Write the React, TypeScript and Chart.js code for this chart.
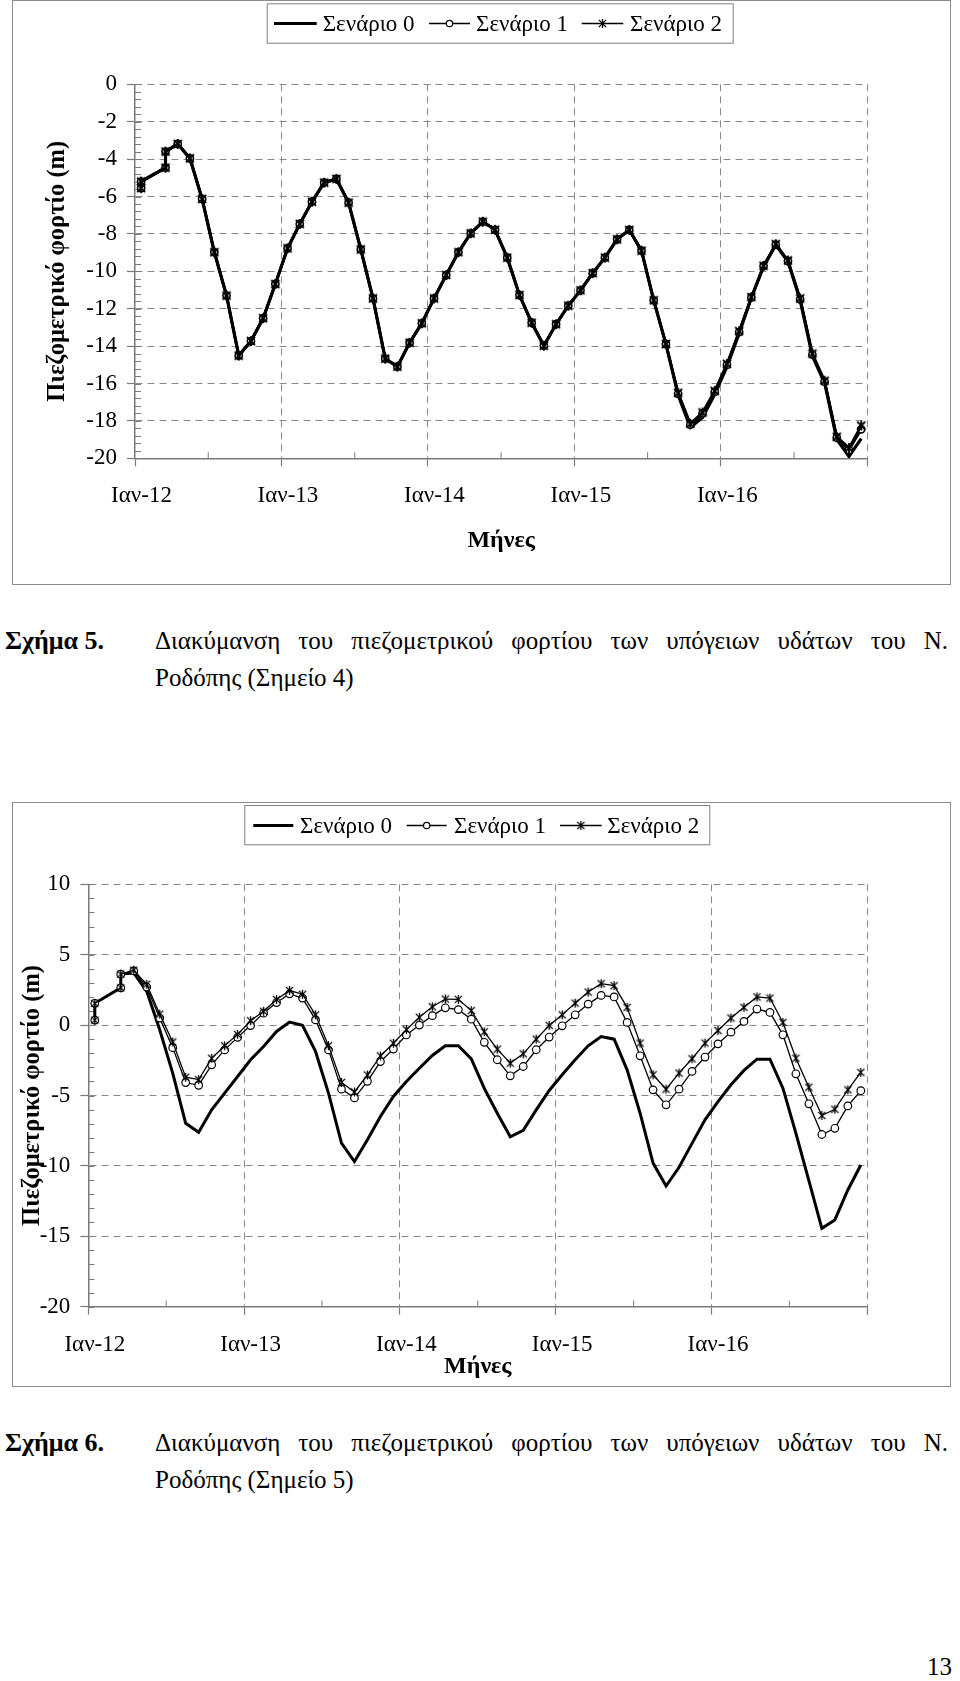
import { useEffect, useRef } from 'react';
import { Chart, registerables } from 'chart.js';

Chart.register(...registerables);

const FONT = '"Liberation Serif", "Times New Roman", serif';
const AXIS = '#7a7a7a';
const GRID = '#8a8a8a';

const SERIES_NAMES = ['Σενάριο 0', 'Σενάριο 1', 'Σενάριο 2'];
const YEAR_LABELS = ['Ιαν-12', 'Ιαν-13', 'Ιαν-14', 'Ιαν-15', 'Ιαν-16'];
const Y_TITLE = 'Πιεζομετρικό φορτίο (m)';
const X_TITLE = 'Μήνες';

// month index (0 = Jan 2012) of every observation
const MONTHS = [0, 0, 2, 2, 3, 4, 5, 6, 7, 8, 9, 10, 11, 12, 13, 14, 15, 16, 17, 18, 19, 20, 21, 22, 23, 24, 25, 26, 27, 28, 29,
  30, 31, 32, 33, 34, 35, 36, 37, 38, 39, 40, 41, 42, 43, 44, 45, 46, 47, 48, 49, 50, 51, 52, 53, 54, 55, 56, 57, 58, 59];

// Σημείο 4
const P4_S0 = [-5.55, -5.2, -4.46, -3.6, -3.19, -3.96, -6.13, -8.98, -11.3, -14.51, -13.73, -12.51, -10.68, -8.77, -7.47, -6.28,
  -5.26, -5.06, -6.33, -8.83, -11.45, -14.67, -15.1, -13.82, -12.78, -11.45, -10.2, -8.98, -7.97, -7.35, -7.78,
  -9.27, -11.27, -12.75, -13.98, -12.83, -11.84, -11.02, -10.1, -9.27, -8.29, -7.79, -8.9, -11.55, -13.89, -16.61, -18.34,
  -17.81, -16.58, -15.1, -13.32, -11.42, -9.75, -8.59, -9.48, -11.55, -14.53, -15.96, -18.98, -19.9, -18.95];
const P4_S1 = [-5.55, -5.2, -4.46, -3.6, -3.19, -3.96, -6.13, -8.98, -11.3, -14.51, -13.73, -12.51, -10.68, -8.77, -7.47, -6.28,
  -5.26, -5.06, -6.33, -8.83, -11.45, -14.67, -15.1, -13.82, -12.78, -11.45, -10.2, -8.98, -7.97, -7.35, -7.78,
  -9.27, -11.27, -12.75, -13.98, -12.83, -11.84, -11.02, -10.1, -9.27, -8.29, -7.79, -8.9, -11.55, -13.89, -16.55, -18.2,
  -17.6, -16.45, -15.0, -13.25, -11.4, -9.72, -8.57, -9.45, -11.5, -14.45, -15.9, -18.9, -19.55, -18.45];
const P4_S2 = [-5.55, -5.2, -4.46, -3.6, -3.19, -3.96, -6.13, -8.98, -11.3, -14.51, -13.73, -12.51, -10.68, -8.77, -7.47, -6.28,
  -5.26, -5.06, -6.33, -8.83, -11.45, -14.67, -15.1, -13.82, -12.78, -11.45, -10.2, -8.98, -7.97, -7.35, -7.78,
  -9.27, -11.27, -12.75, -13.98, -12.83, -11.84, -11.02, -10.1, -9.27, -8.29, -7.79, -8.9, -11.55, -13.89, -16.5, -18.15,
  -17.55, -16.4, -14.95, -13.2, -11.38, -9.7, -8.55, -9.42, -11.45, -14.4, -15.85, -18.85, -19.45, -18.25];

// Σημείο 5
const P5_S0 = [0.35, 1.55, 2.65, 3.62, 3.7, 2.4, -0.33, -3.41, -6.97, -7.61, -6.02, -4.83, -3.65, -2.46, -1.52, -0.45,
  0.21, -0.02, -1.87, -4.83, -8.39, -9.69, -8.15, -6.49, -5.07, -4.0, -3.06, -2.16, -1.47, -1.47, -2.4,
  -4.5, -6.26, -7.93, -7.47, -6.02, -4.64, -3.53, -2.46, -1.47, -0.81, -1.0, -3.18, -6.26, -9.8, -11.43, -10.1,
  -8.4, -6.73, -5.43, -4.24, -3.22, -2.42, -2.42, -4.48, -7.68, -11.05, -14.43, -13.84, -11.71, -9.94];
const P5_S1 = [0.35, 1.55, 2.65, 3.62, 3.85, 2.7, 0.5, -1.6, -4.08, -4.28, -2.82, -1.76, -0.87, -0.03, 0.85, 1.6,
  2.22, 1.92, 0.37, -1.76, -4.55, -5.17, -3.99, -2.59, -1.7, -0.7, 0.0, 0.67, 1.23, 1.1, 0.42,
  -1.22, -2.46, -3.6, -2.94, -1.75, -0.85, -0.05, 0.73, 1.49, 2.11, 2.0, 0.19, -2.18, -4.6, -5.66, -4.55,
  -3.29, -2.27, -1.33, -0.5, 0.26, 1.14, 0.9, -0.69, -3.46, -5.59, -7.77, -7.33, -5.74, -4.66];
const P5_S2 = [0.35, 1.55, 2.65, 3.62, 3.9, 2.9, 0.78, -1.2, -3.7, -3.87, -2.36, -1.47, -0.66, 0.31, 0.98, 1.82,
  2.46, 2.19, 0.73, -1.46, -4.07, -4.75, -3.54, -2.19, -1.29, -0.32, 0.55, 1.3, 1.85, 1.83, 1.03,
  -0.48, -1.71, -2.7, -2.04, -1.0, -0.02, 0.73, 1.56, 2.35, 2.94, 2.8, 1.26, -1.28, -3.53, -4.55, -3.41,
  -2.39, -1.28, -0.38, 0.5, 1.26, 2.0, 1.92, 0.19, -2.35, -4.41, -6.42, -5.98, -4.6, -3.36];

const X_MAX = 60;

function makeAsterisk(r: number, lw: number) {
  const c = document.createElement('canvas');
  const s = Math.ceil(2 * r + 2);
  c.width = s;
  c.height = s;
  const g = c.getContext('2d')!;
  g.strokeStyle = '#000';
  g.lineWidth = lw;
  const m = s / 2;
  const d = r * 0.8;
  g.beginPath();
  g.moveTo(m, m - r); g.lineTo(m, m + r);
  g.moveTo(m - d, m - d); g.lineTo(m + d, m + d);
  g.moveTo(m + d, m - d); g.lineTo(m - d, m + d);
  g.stroke();
  return c;
}

const minorTicksPlugin = {
  id: 'minorTicks',
  beforeDatasetsDraw(chart: any, _a: any, opts: any) {
    const { ctx } = chart;
    const x = chart.scales.x;
    const y = chart.scales.y;
    ctx.save();
    ctx.strokeStyle = AXIS;
    ctx.lineWidth = 1;
    ctx.beginPath();
    const nx = Math.round((x.max - x.min) / opts.xStep);
    for (let i = 1; i < nx; i++) {
      if (i % 2 === 0) continue;
      const px = x.getPixelForValue(x.min + i * opts.xStep);
      ctx.moveTo(px, y.bottom);
      ctx.lineTo(px, y.bottom - opts.len);
    }
    const ny = Math.round((y.max - y.min) / opts.yStep);
    for (let i = 0; i <= ny; i++) {
      const py = Math.round(y.getPixelForValue(y.min + i * opts.yStep)) + 0.5;
      ctx.moveTo(x.left, py);
      ctx.lineTo(x.left + opts.len, py);
    }
    ctx.stroke();
    ctx.restore();
  },
};

const boxLegendPlugin = {
  id: 'boxLegend',
  afterDraw(chart: any, _a: any, opts: any) {
    const { ctx } = chart;
    const [bx, by, bw, bh] = opts.box;
    ctx.save();
    ctx.fillStyle = '#fff';
    ctx.fillRect(bx, by, bw, bh);
    ctx.strokeStyle = '#808080';
    ctx.lineWidth = 1;
    ctx.strokeRect(bx + 0.5, by + 0.5, bw, bh);
    ctx.font = `${opts.fontSize}px ${FONT}`;
    ctx.textBaseline = 'middle';
    ctx.fillStyle = '#000';
    opts.items.forEach((it: any, i: number) => {
      const ds = chart.data.datasets[i];
      ctx.strokeStyle = '#000';
      ctx.lineWidth = opts.lineWidths[i];
      ctx.beginPath();
      ctx.moveTo(it.x1, opts.y);
      ctx.lineTo(it.x2, opts.y);
      ctx.stroke();
      const cx = (it.x1 + it.x2) / 2;
      if (i === 1) {
        ctx.beginPath();
        ctx.arc(cx, opts.y, 3.2, 0, Math.PI * 2);
        ctx.fillStyle = '#fff';
        ctx.fill();
        ctx.lineWidth = 1.2;
        ctx.stroke();
        ctx.fillStyle = '#000';
      } else if (i === 2) {
        const img = opts.star as HTMLCanvasElement;
        ctx.drawImage(img, cx - img.width / 2, opts.y - img.height / 2);
      }
      ctx.fillText(ds.label, it.tx, opts.y + 1);
    });
    ctx.restore();
  },
};

type Spec = {
  values: number[][];
  yMin: number; yMax: number; yStep: number; yMinor: number;
  padding: { left: number; right: number; top: number; bottom: number };
  yWidth: number; xHeight: number; yTitlePad: number; xTitlePad: number;
  lineWidths: number[]; circleR: number; starR: number; starLW: number; markerLW: number;
  legend: any;
};

function buildConfig(spec: Spec, star: HTMLCanvasElement, legendStar: HTMLCanvasElement): any {
  const datasets = SERIES_NAMES.map((name, i) => ({
    label: name,
    data: MONTHS.map((m, k) => ({ x: m + 0.5, y: spec.values[i][k] })),
    borderColor: '#000',
    borderWidth: spec.lineWidths[i],
    pointRadius: i === 0 ? 0 : spec.circleR,
    pointStyle: i === 2 ? star : 'circle',
    pointBackgroundColor: '#fff',
    pointBorderColor: '#000',
    pointBorderWidth: spec.markerLW,
    tension: 0,
    fill: false,
    order: 3 - i,
  }));
  const gridColor = (edge: number) => (ctx: any) =>
    ctx.tick && Math.abs(ctx.tick.value - edge) < 1e-9 ? 'rgba(0,0,0,0)' : GRID;
  return {
    type: 'line',
    data: { datasets },
    options: {
      responsive: false,
      animation: false,
      devicePixelRatio: 1,
      layout: { padding: spec.padding },
      plugins: {
        legend: { display: false },
        tooltip: { enabled: false },
        minorTicks: { xStep: 6, yStep: spec.yMinor, len: 6 },
        boxLegend: { ...spec.legend, star: legendStar },
      },
      scales: {
        x: {
          type: 'linear',
          min: 0,
          max: X_MAX,
          afterFit: (s: any) => { s.height = spec.xHeight; },
          ticks: {
            stepSize: 12,
            autoSkip: false,
            maxRotation: 0,
            padding: 16,
            labelOffset: 6.5,
            color: '#000',
            font: { family: FONT, size: 23 },
            callback: (v: number) => {
              const i = Math.round(v / 12);
              return Math.abs(v - i * 12) < 1e-9 && i < YEAR_LABELS.length ? YEAR_LABELS[i] : '';
            },
          },
          grid: { color: gridColor(0), lineWidth: 1, tickColor: AXIS, tickLength: 8, tickWidth: 1.2 },
          border: { display: true, color: AXIS, width: 1.5, dash: [7, 5] },
          title: {
            display: true,
            text: X_TITLE,
            color: '#000',
            font: { family: FONT, size: 24, weight: 'bold', lineHeight: 1.2 },
            padding: { top: 0, bottom: spec.xTitlePad },
          },
        },
        y: {
          type: 'linear',
          min: spec.yMin,
          max: spec.yMax,
          afterFit: (s: any) => { s.width = spec.yWidth; },
          ticks: {
            stepSize: spec.yStep,
            autoSkip: false,
            padding: 10,
            color: '#000',
            font: { family: FONT, size: 23 },
          },
          grid: { color: gridColor(spec.yMin), lineWidth: 1, tickColor: AXIS, tickLength: 8, tickWidth: 1.2 },
          border: { display: true, color: AXIS, width: 1.5, dash: [7, 5] },
          title: {
            display: true,
            text: Y_TITLE,
            color: '#000',
            font: { family: FONT, size: 24.5, weight: 'bold', lineHeight: 1.2 },
            padding: { top: spec.yTitlePad, bottom: 0 },
          },
        },
      },
    },
    plugins: [minorTicksPlugin, boxLegendPlugin],
  };
}

const CW = 938;
const CH = 585;

function Panel({ spec, top }: { spec: Spec; top: number }) {
  const ref = useRef<HTMLCanvasElement>(null);
  useEffect(() => {
    const star = makeAsterisk(spec.starR, spec.starLW);
    const legendStar = makeAsterisk(4.5, 1.3);
    const chart = new Chart(ref.current!, buildConfig(spec, star, legendStar));
    return () => chart.destroy();
  }, []);
  return (
    <>
      <div style={{ position: 'absolute', left: 12, top, width: CW + 1, height: CH, boxSizing: 'border-box', border: '1.5px solid #8c8c8c' }} />
      <canvas ref={ref} width={CW} height={CH} style={{ position: 'absolute', left: 12, top, width: CW, height: CH }} />
    </>
  );
}

const SPEC4: Spec = {
  values: [P4_S0, P4_S1, P4_S2],
  yMin: -20, yMax: 0, yStep: 2, yMinor: 0.4,
  padding: { left: 20, right: 82.7, top: 84.3, bottom: 26.7 },
  yWidth: 103, xHeight: 100, yTitlePad: 11.2, xTitlePad: 3,
  lineWidths: [3.2, 2.6, 2.6], circleR: 3.6, starR: 5, starLW: 1.8, markerLW: 1.6,
  legend: {
    box: [254.7, 3.3, 466, 39.4], y: 23.5, fontSize: 23, lineWidths: [3, 1.3, 1.3],
    items: [{ x1: 262, x2: 304.7, tx: 310.7 }, { x1: 417, x2: 458, tx: 464 }, { x1: 569.7, x2: 611.3, tx: 618 }],
  },
};

const SPEC5: Spec = {
  values: [P5_S0, P5_S1, P5_S2],
  yMin: -20, yMax: 10, yStep: 5, yMinor: 1,
  padding: { left: 5, right: 82.7, top: 82.3, bottom: 5.3 },
  yWidth: 71.3, xHeight: 75, yTitlePad: 1.2, xTitlePad: 0.5,
  lineWidths: [3, 1.3, 1.3], circleR: 3.8, starR: 4.5, starLW: 1.3, markerLW: 1.2,
  legend: {
    box: [232.3, 3, 465, 39.3], y: 23.5, fontSize: 23, lineWidths: [3, 1.3, 1.3],
    items: [{ x1: 241.3, x2: 281.3, tx: 288 }, { x1: 394.7, x2: 434.7, tx: 442 }, { x1: 548, x2: 589.7, tx: 595.3 }],
  },
};

const CAPTION_BODY = 'Διακύμανση του πιεζομετρικού φορτίου των υπόγειων υδάτων του Ν.';

function Caption({ top, num, point }: { top: number; num: string; point: string }) {
  const lh = 37;
  return (
    <>
      <div style={{ position: 'absolute', left: 5, top, fontSize: 26, lineHeight: `${lh}px`, fontWeight: 'bold', whiteSpace: 'nowrap' }}>
        {`Σχήμα ${num}.`}
      </div>
      <div style={{ position: 'absolute', left: 155, top, width: 793, fontSize: 25, lineHeight: `${lh}px`, textAlign: 'justify', textAlignLast: 'justify' as any, whiteSpace: 'nowrap' }}>
        {CAPTION_BODY}
      </div>
      <div style={{ position: 'absolute', left: 155, top: top + lh, fontSize: 25, lineHeight: `${lh}px`, whiteSpace: 'nowrap' }}>
        {`Ροδόπης (Σημείο ${point})`}
      </div>
    </>
  );
}

export default function App() {
  return (
    <div style={{ position: 'absolute', left: 0, top: 0, width: 960, height: 1681, background: '#fff', color: '#000', fontFamily: FONT, overflow: 'hidden' }}>
      <Panel spec={SPEC4} top={0} />
      <Caption top={622} num="5" point="4" />
      <Panel spec={SPEC5} top={802} />
      <Caption top={1424} num="6" point="5" />
      <div style={{ position: 'absolute', right: 8, top: 1652, fontSize: 25, lineHeight: '30px' }}>13</div>
    </div>
  );
}
